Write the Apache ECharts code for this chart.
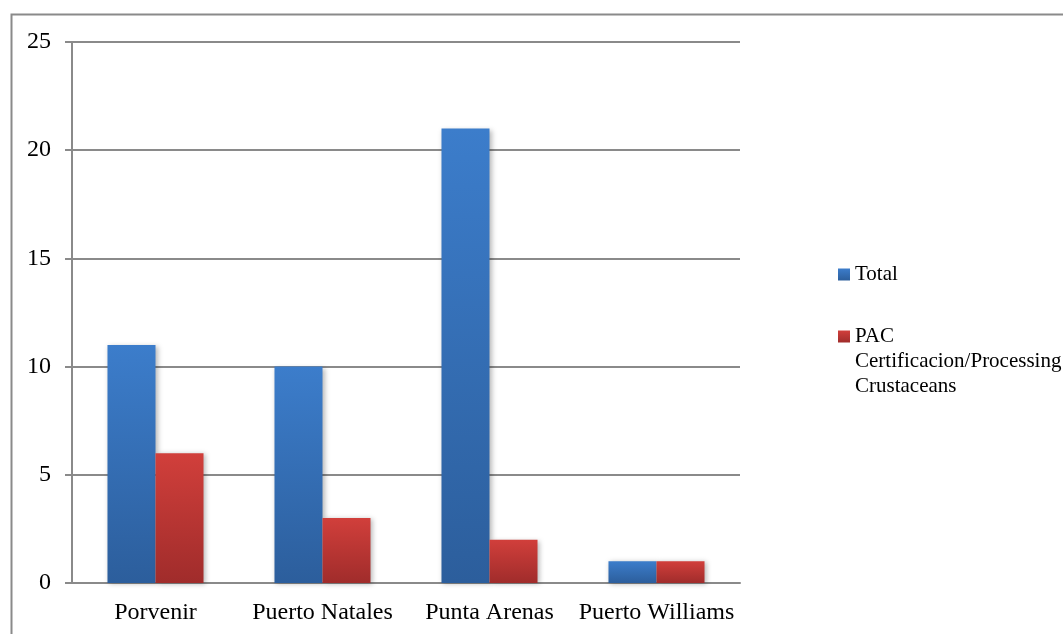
<!DOCTYPE html>
<html>
<head>
<meta charset="utf-8">
<style>
  html, body { margin: 0; padding: 0; background: #fff; }
  #chart { width: 1063px; height: 634px; }
</style>
<script src="https://cdn.jsdelivr.net/npm/echarts@6/dist/echarts.min.js"></script>
</head>
<body>
<div id="chart"></div>
<script>
// Localities and counts per category
const categories = ['Porvenir', 'Puerto Natales', 'Punta Arenas', 'Puerto Williams'];
const totalValues = [11, 10, 21, 1];
const pacValues = [6, 3, 2, 1];
const seriesNames = ['Total', 'PAC Certificacion/Processing Crustaceans'];
const yTicks = { min: 0, max: 25, interval: 5 };

const font = '"Liberation Serif", "Times New Roman", serif';
const axisGray = '#8a8a8a';

function grad(top, bottom) {
  return new echarts.graphic.LinearGradient(0, 0, 0, 1, [
    { offset: 0, color: top },
    { offset: 1, color: bottom }
  ]);
}

const barShadow = {
  shadowBlur: 5,
  shadowColor: 'rgba(0,0,0,0.28)',
  shadowOffsetX: 2,
  shadowOffsetY: 1
};

const chart = echarts.init(document.getElementById('chart'), null, { renderer: 'canvas' });

chart.setOption({
  animation: false,
  backgroundColor: '#ffffff',
  graphic: [{
    type: 'rect',
    left: 9,
    top: 12,
    shape: { width: 1070, height: 640 },
    style: { fill: 'none', stroke: axisGray, lineWidth: 2 },
    silent: true,
    z: -1
  }],
  grid: { left: 72, right: 323, top: 42, bottom: 51 },
  legend: {
    orient: 'vertical',
    left: 838,
    top: 262,
    padding: 0,
    itemGap: -13,
    itemWidth: 12,
    itemHeight: 12,
    icon: 'rect',
    data: seriesNames,
    formatter: function (name) {
      if (name === seriesNames[1]) {
        // first line sits level with the colour key
        return '\n\nPAC\nCertificacion/Processing\nCrustaceans';
      }
      return name;
    },
    textStyle: { fontFamily: font, fontSize: 21, color: '#000', lineHeight: 25 }
  },
  xAxis: {
    type: 'category',
    data: categories,
    axisLine: { show: true, lineStyle: { color: axisGray, width: 2 } },
    axisTick: { show: false },
    axisLabel: { interval: 0, fontFamily: font, fontSize: 24, color: '#000', margin: 18 }
  },
  yAxis: {
    type: 'value',
    min: yTicks.min,
    max: yTicks.max,
    interval: yTicks.interval,
    axisLine: { show: true, lineStyle: { color: axisGray, width: 2 } },
    axisTick: { show: true, length: 7, lineStyle: { color: axisGray, width: 2 } },
    splitLine: { show: true, lineStyle: { color: axisGray, width: 2 } },
    axisLabel: { fontFamily: font, fontSize: 24, color: '#000', margin: 21 }
  },
  series: [
    {
      name: seriesNames[0],
      type: 'bar',
      data: totalValues,
      barGap: '0%',
      barCategoryGap: '42.5%',
      itemStyle: Object.assign({ color: grad('#3c7dcb', '#2c5e9c') }, barShadow)
    },
    {
      name: seriesNames[1],
      type: 'bar',
      data: pacValues,
      itemStyle: Object.assign({ color: grad('#d13f3b', '#a02c2b') }, barShadow)
    }
  ]
});
</script>
</body>
</html>
